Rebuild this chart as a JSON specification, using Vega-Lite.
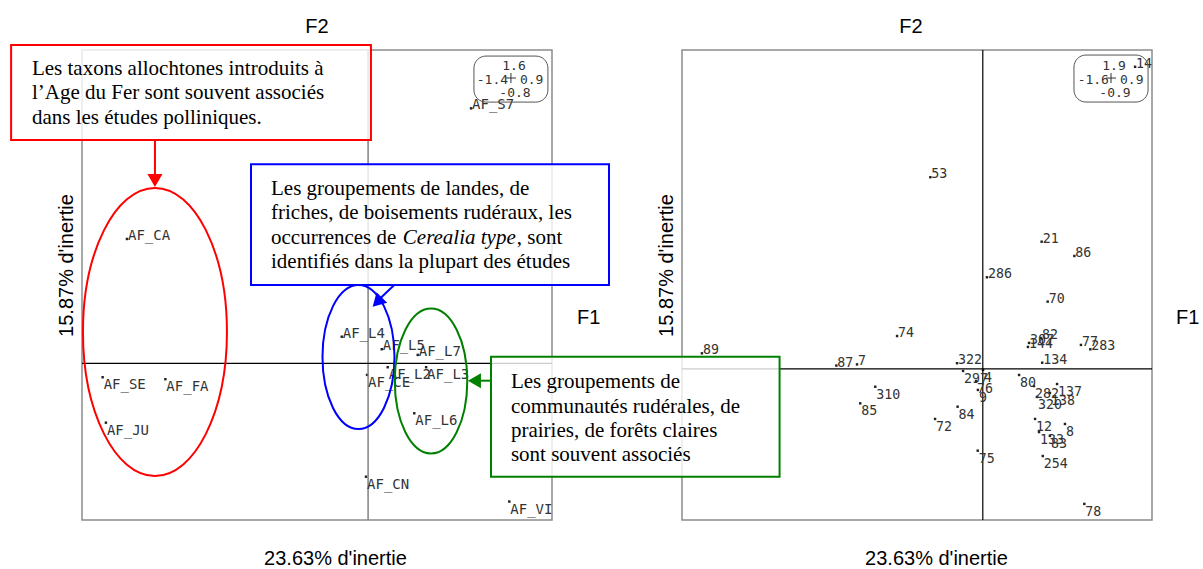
{
  "$schema": "https://vega.github.io/schema/vega-lite/v6.json",
  "background": "white",
  "padding": {"left": 9, "top": 16, "right": 5, "bottom": 5},
  "bounds": "flush",
  "spacing": 130,
  "config": {
    "view": {"stroke": "#8c8c8c", "strokeWidth": 1.5},
    "axis": {"domain": false, "ticks": false, "labels": false, "grid": false, "titleFont": "Liberation Sans", "titleFontSize": 20, "titleFontWeight": "normal", "titleColor": "#000"},
    "title": {"font": "Liberation Sans", "fontSize": 20, "fontWeight": "normal", "color": "#000", "anchor": "middle", "baseline": "bottom", "offset": 7}
  },
  "datasets": {
    "one": [{}],
    "left": [
      {"label": "AF_S7", "x": 0.504, "y": 1.302},
      {"label": "AF_CA", "x": -1.180, "y": 0.635},
      {"label": "AF_L4", "x": -0.129, "y": 0.136},
      {"label": "AF_L5", "x": 0.067, "y": 0.072},
      {"label": "AF_L7", "x": 0.243, "y": 0.043},
      {"label": "AF_L2", "x": 0.096, "y": -0.020},
      {"label": "AF_L3", "x": 0.284, "y": -0.020},
      {"label": "AF_CE", "x": -0.005, "y": -0.059},
      {"label": "AF_SE", "x": -1.299, "y": -0.071},
      {"label": "AF_FA", "x": -0.992, "y": -0.081},
      {"label": "AF_JU", "x": -1.283, "y": -0.303},
      {"label": "AF_L6", "x": 0.226, "y": -0.255},
      {"label": "AF_CN", "x": -0.010, "y": -0.579},
      {"label": "AF_VI", "x": 0.691, "y": -0.706}
    ],
    "right": [
      {"label": "14", "x": 0.810, "y": 1.800},
      {"label": "53", "x": -0.279, "y": 1.142},
      {"label": "21", "x": 0.313, "y": 0.758},
      {"label": "86", "x": 0.487, "y": 0.673},
      {"label": "286", "x": 0.022, "y": 0.546},
      {"label": "70", "x": 0.345, "y": 0.401},
      {"label": "74", "x": -0.456, "y": 0.196},
      {"label": "89", "x": -1.494, "y": 0.093},
      {"label": "87", "x": -0.779, "y": 0.020},
      {"label": "7", "x": -0.669, "y": 0.027},
      {"label": "322", "x": -0.137, "y": 0.034},
      {"label": "307", "x": 0.246, "y": 0.155},
      {"label": "82", "x": 0.310, "y": 0.184},
      {"label": "144", "x": 0.240, "y": 0.131},
      {"label": "77", "x": 0.522, "y": 0.143},
      {"label": "283", "x": 0.572, "y": 0.117},
      {"label": "134", "x": 0.316, "y": 0.037},
      {"label": "297", "x": -0.105, "y": -0.012},
      {"label": "4", "x": 0.001, "y": -0.006},
      {"label": "76", "x": -0.036, "y": -0.072},
      {"label": "9", "x": -0.026, "y": -0.125},
      {"label": "80", "x": 0.193, "y": -0.036},
      {"label": "282", "x": 0.272, "y": -0.102},
      {"label": "137", "x": 0.395, "y": -0.090},
      {"label": "138", "x": 0.357, "y": -0.143},
      {"label": "320", "x": 0.288, "y": -0.167},
      {"label": "310", "x": -0.572, "y": -0.106},
      {"label": "85", "x": -0.652, "y": -0.205},
      {"label": "84", "x": -0.134, "y": -0.225},
      {"label": "72", "x": -0.254, "y": -0.298},
      {"label": "12", "x": 0.278, "y": -0.298},
      {"label": "8", "x": 0.437, "y": -0.328},
      {"label": "133", "x": 0.299, "y": -0.376},
      {"label": "83", "x": 0.357, "y": -0.399},
      {"label": "75", "x": -0.027, "y": -0.487},
      {"label": "254", "x": 0.319, "y": -0.519},
      {"label": "78", "x": 0.540, "y": -0.804}
    ]
  },
  "hconcat": [
    {
      "width": 470,
      "height": 470,
      "title": {"text": "F2"},
      "layer": [
        {
          "data": {"name": "left"},
          "mark": {"type": "point", "shape": "square", "size": 6, "filled": true, "fill": "#222", "strokeWidth": 0, "opacity": 1},
          "encoding": {
            "x": {"field": "x", "type": "quantitative", "scale": {"domain": [-1.4, 0.9], "nice": false, "zero": false}, "axis": {"title": "23.63% d'inertie", "titleX": 253, "titleY": 38, "titleAlign": "center", "titleBaseline": "middle"}},
            "y": {"field": "y", "type": "quantitative", "scale": {"domain": [-0.8, 1.6], "nice": false, "zero": false}, "axis": {"title": "15.87% d'inertie", "titleX": -16, "titleY": 215, "titleAngle": -90, "titleAlign": "center", "titleBaseline": "middle"}}
          }
        },
        {"data": {"name": "one"}, "mark": {"type": "rule", "color": "#808080", "strokeWidth": 1.5}, "encoding": {"x": {"datum": 0}}},
        {"data": {"name": "one"}, "mark": {"type": "rule", "color": "#000", "strokeWidth": 1.2}, "encoding": {"y": {"datum": 0}}},
        {
          "data": {"name": "left"},
          "transform": [{"filter": "datum.y >= 0"}],
          "mark": {"type": "text", "align": "left", "baseline": "alphabetic", "dx": 1, "dy": 1, "font": "DejaVu Sans Mono", "fontSize": 14, "fill": "#333"},
          "encoding": {"x": {"field": "x", "type": "quantitative"}, "y": {"field": "y", "type": "quantitative"}, "text": {"field": "label"}}
        },
        {
          "data": {"name": "left"},
          "transform": [{"filter": "datum.y < 0"}],
          "mark": {"type": "text", "align": "left", "baseline": "top", "dx": 1, "dy": 1, "font": "DejaVu Sans Mono", "fontSize": 14, "fill": "#333"},
          "encoding": {"x": {"field": "x", "type": "quantitative"}, "y": {"field": "y", "type": "quantitative"}, "text": {"field": "label"}}
        },
        {"data": {"name": "one"}, "mark": {"type": "rect", "cornerRadius": 12, "fillOpacity": 0, "stroke": "#555", "strokeWidth": 1}, "encoding": {"x": {"datum": 0.518}, "x2": {"datum": 0.880}, "y": {"datum": 1.569}, "y2": {"datum": 1.334}}},
        {"data": {"name": "one"}, "mark": {"type": "text", "text": "1.6", "align": "center", "baseline": "middle", "font": "DejaVu Sans Mono", "fontSize": 13, "fill": "#333"}, "encoding": {"x": {"datum": 0.714}, "y": {"datum": 1.516}}},
        {"data": {"name": "one"}, "mark": {"type": "text", "text": "-1.4", "align": "right", "baseline": "middle", "font": "DejaVu Sans Mono", "fontSize": 13, "fill": "#333"}, "encoding": {"x": {"datum": 0.685}, "y": {"datum": 1.447}}},
        {"data": {"name": "one"}, "mark": {"type": "text", "text": "0.9", "align": "left", "baseline": "middle", "font": "DejaVu Sans Mono", "fontSize": 13, "fill": "#333"}, "encoding": {"x": {"datum": 0.743}, "y": {"datum": 1.447}}},
        {"data": {"name": "one"}, "mark": {"type": "text", "text": "-0.8", "align": "center", "baseline": "middle", "font": "DejaVu Sans Mono", "fontSize": 13, "fill": "#333"}, "encoding": {"x": {"datum": 0.719}, "y": {"datum": 1.378}}},
        {"data": {"name": "one"}, "mark": {"type": "point", "shape": "M -1 0 L 1 0 M 0 -1 L 0 1", "size": 100, "filled": false, "stroke": "#333", "strokeWidth": 1, "opacity": 1}, "encoding": {"x": {"datum": 0.699}, "y": {"datum": 1.457}}},
        {"data": {"name": "one"}, "mark": {"type": "text", "text": "F1", "align": "left", "baseline": "middle", "font": "Liberation Sans", "fontSize": 20, "fill": "#000", "clip": false}, "encoding": {"x": {"datum": 1.022}, "y": {"datum": 0.231}}},
        {"data": {"name": "one"}, "mark": {"type": "point", "shape": "M 0 -1 A 0.5 1 0 1 1 0 1 A 0.5 1 0 1 1 0 -1 Z", "size": 82944, "filled": false, "stroke": "#ff0000", "strokeWidth": 2, "opacity": 1, "clip": false}, "encoding": {"x": {"datum": -1.043}, "y": {"datum": 0.160}}},
        {"data": {"name": "one"}, "mark": {"type": "point", "shape": "M 0 -1 A 0.5 1 0 1 1 0 1 A 0.5 1 0 1 1 0 -1 Z", "size": 20736, "filled": false, "stroke": "#0000ff", "strokeWidth": 2, "opacity": 1, "clip": false}, "encoding": {"x": {"datum": -0.047}, "y": {"datum": 0.032}}},
        {"data": {"name": "one"}, "mark": {"type": "point", "shape": "M 0 -1 A 0.5 1 0 1 1 0 1 A 0.5 1 0 1 1 0 -1 Z", "size": 21025, "filled": false, "stroke": "#008000", "strokeWidth": 2, "opacity": 1, "clip": false}, "encoding": {"x": {"datum": 0.308}, "y": {"datum": -0.090}}},
        {"data": {"name": "one"}, "mark": {"type": "rect", "fill": "white", "fillOpacity": 0.8, "stroke": "#ff0000", "strokeWidth": 2, "clip": false}, "encoding": {"x": {"datum": -1.747}, "x2": {"datum": 0.014}, "y": {"datum": 1.6255}, "y2": {"datum": 1.140}}},
        {"data": {"name": "one"}, "mark": {"type": "text", "text": ["Les taxons allochtones introduits à", "l’Age du Fer sont souvent associés", "dans les études polliniques."], "align": "left", "baseline": "alphabetic", "font": "Liberation Serif", "fontSize": 21, "lineHeight": 24.3, "fill": "#000", "clip": false}, "encoding": {"x": {"datum": -1.645}, "y": {"datum": 1.472}}},
        {"data": {"name": "one"}, "mark": {"type": "rule", "color": "#ff0000", "strokeWidth": 2, "clip": false}, "encoding": {"x": {"datum": -1.043}, "y": {"datum": 1.140}, "y2": {"datum": 0.962}}},
        {"data": {"name": "one"}, "mark": {"type": "point", "shape": "triangle-down", "size": 225, "filled": true, "fill": "#ff0000", "strokeWidth": 0, "opacity": 1, "clip": false}, "encoding": {"x": {"datum": -1.043}, "y": {"datum": 0.934}}},
        {"data": {"name": "one"}, "mark": {"type": "rect", "fill": "white", "fillOpacity": 0.8, "stroke": "#0000ff", "strokeWidth": 2, "clip": false}, "encoding": {"x": {"datum": -0.573}, "x2": {"datum": 1.179}, "y": {"datum": 1.016}, "y2": {"datum": 0.400}}},
        {"data": {"name": "one"}, "mark": {"type": "text", "text": ["Les groupements de landes, de", "friches, de boisements rudéraux, les"], "align": "left", "baseline": "alphabetic", "font": "Liberation Serif", "fontSize": 21, "lineHeight": 24.3, "fill": "#000", "clip": false}, "encoding": {"x": {"datum": -0.475}, "y": {"datum": 0.860}}},
        {"data": {"name": "one"}, "mark": {"type": "text", "text": "occurrences de", "align": "left", "baseline": "alphabetic", "font": "Liberation Serif", "fontSize": 21, "fill": "#000", "clip": false}, "encoding": {"x": {"datum": -0.475}, "y": {"datum": 0.609}}},
        {"data": {"name": "one"}, "mark": {"type": "text", "text": "Cerealia type", "align": "left", "baseline": "alphabetic", "font": "Liberation Serif", "fontStyle": "italic", "fontSize": 21, "fill": "#000", "clip": false}, "encoding": {"x": {"datum": 0.170}, "y": {"datum": 0.609}}},
        {"data": {"name": "one"}, "mark": {"type": "text", "text": ", sont", "align": "left", "baseline": "alphabetic", "font": "Liberation Serif", "fontSize": 21, "fill": "#000", "clip": false}, "encoding": {"x": {"datum": 0.728}, "y": {"datum": 0.609}}},
        {"data": {"name": "one"}, "mark": {"type": "text", "text": "identifiés dans la plupart des études", "align": "left", "baseline": "alphabetic", "font": "Liberation Serif", "fontSize": 21, "fill": "#000", "clip": false}, "encoding": {"x": {"datum": -0.475}, "y": {"datum": 0.487}}},
        {"data": {"name": "one"}, "mark": {"type": "rule", "color": "#0000ff", "strokeWidth": 2, "clip": false}, "encoding": {"x": {"datum": 0.128}, "y": {"datum": 0.400}, "x2": {"datum": 0.0534}, "y2": {"datum": 0.326}}},
        {"data": {"name": "one"}, "mark": {"type": "point", "shape": "triangle-down", "angle": 45, "size": 225, "filled": true, "fill": "#0000ff", "strokeWidth": 0, "opacity": 1, "clip": false}, "encoding": {"x": {"datum": 0.045}, "y": {"datum": 0.313}}}
      ]
    },
    {
      "width": 470,
      "height": 470,
      "title": {"text": "F2", "dx": -6, "dy": -5},
      "layer": [
        {
          "data": {"name": "right"},
          "mark": {"type": "point", "shape": "square", "size": 6, "filled": true, "fill": "#222", "strokeWidth": 0, "opacity": 1},
          "encoding": {
            "x": {"field": "x", "type": "quantitative", "scale": {"domain": [-1.6, 0.9], "nice": false, "zero": false}, "axis": {"title": "23.63% d'inertie", "titleX": 254, "titleY": 38, "titleAlign": "center", "titleBaseline": "middle"}},
            "y": {"field": "y", "type": "quantitative", "scale": {"domain": [-0.9, 1.9], "nice": false, "zero": false}, "axis": {"title": "15.87% d'inertie", "titleX": -16, "titleY": 215, "titleAngle": -90, "titleAlign": "center", "titleBaseline": "middle"}}
          }
        },
        {"data": {"name": "one"}, "mark": {"type": "rule", "color": "#000", "strokeWidth": 1.2}, "encoding": {"x": {"datum": 0}}},
        {"data": {"name": "one"}, "mark": {"type": "rule", "color": "#000", "strokeWidth": 1.2}, "encoding": {"y": {"datum": 0}}},
        {
          "data": {"name": "right"},
          "transform": [{"filter": "datum.y >= 0"}],
          "mark": {"type": "text", "align": "left", "baseline": "alphabetic", "dx": 1, "dy": 1, "font": "DejaVu Sans Mono", "fontSize": 13.3, "fill": "#333"},
          "encoding": {"x": {"field": "x", "type": "quantitative"}, "y": {"field": "y", "type": "quantitative"}, "text": {"field": "label"}}
        },
        {
          "data": {"name": "right"},
          "transform": [{"filter": "datum.y < 0"}],
          "mark": {"type": "text", "align": "left", "baseline": "top", "dx": 1, "dy": 1, "font": "DejaVu Sans Mono", "fontSize": 13.3, "fill": "#333"},
          "encoding": {"x": {"field": "x", "type": "quantitative"}, "y": {"field": "y", "type": "quantitative"}, "text": {"field": "label"}}
        },
        {"data": {"name": "one"}, "mark": {"type": "rect", "cornerRadius": 12, "fillOpacity": 0, "stroke": "#555", "strokeWidth": 1}, "encoding": {"x": {"datum": 0.485}, "x2": {"datum": 0.879}, "y": {"datum": 1.870}, "y2": {"datum": 1.590}}},
        {"data": {"name": "one"}, "mark": {"type": "text", "text": "1.9", "align": "center", "baseline": "middle", "font": "DejaVu Sans Mono", "fontSize": 13, "fill": "#333"}, "encoding": {"x": {"datum": 0.698}, "y": {"datum": 1.802}}},
        {"data": {"name": "one"}, "mark": {"type": "text", "text": "-1.6", "align": "right", "baseline": "middle", "font": "DejaVu Sans Mono", "fontSize": 13, "fill": "#333"}, "encoding": {"x": {"datum": 0.671}, "y": {"datum": 1.721}}},
        {"data": {"name": "one"}, "mark": {"type": "text", "text": "0.9", "align": "left", "baseline": "middle", "font": "DejaVu Sans Mono", "fontSize": 13, "fill": "#333"}, "encoding": {"x": {"datum": 0.730}, "y": {"datum": 1.721}}},
        {"data": {"name": "one"}, "mark": {"type": "text", "text": "-0.9", "align": "center", "baseline": "middle", "font": "DejaVu Sans Mono", "fontSize": 13, "fill": "#333"}, "encoding": {"x": {"datum": 0.703}, "y": {"datum": 1.641}}},
        {"data": {"name": "one"}, "mark": {"type": "point", "shape": "M -1 0 L 1 0 M 0 -1 L 0 1", "size": 100, "filled": false, "stroke": "#333", "strokeWidth": 1, "opacity": 1}, "encoding": {"x": {"datum": 0.682}, "y": {"datum": 1.733}}},
        {"data": {"name": "one"}, "mark": {"type": "text", "text": "F1", "align": "left", "baseline": "middle", "font": "Liberation Sans", "fontSize": 20, "fill": "#000", "clip": false}, "encoding": {"x": {"datum": 1.028}, "y": {"datum": 0.303}}},
        {"data": {"name": "one"}, "mark": {"type": "rect", "fill": "white", "fillOpacity": 0.8, "stroke": "#008000", "strokeWidth": 2, "clip": false}, "encoding": {"x": {"datum": -2.616}, "x2": {"datum": -1.081}, "y": {"datum": 0.073}, "y2": {"datum": -0.642}}},
        {"data": {"name": "one"}, "mark": {"type": "text", "text": ["Les groupements de", "communautés rudérales, de", "prairies, de forêts claires", "sont souvent associés"], "align": "left", "baseline": "alphabetic", "font": "Liberation Serif", "fontSize": 21, "lineHeight": 24.3, "fill": "#000", "clip": false}, "encoding": {"x": {"datum": -2.510}, "y": {"datum": -0.115}}},
        {"data": {"name": "one"}, "mark": {"type": "rule", "color": "#008000", "strokeWidth": 2, "clip": false}, "encoding": {"x": {"datum": -2.616}, "x2": {"datum": -2.680}, "y": {"datum": -0.070}}},
        {"data": {"name": "one"}, "mark": {"type": "point", "shape": "triangle-left", "size": 225, "filled": true, "fill": "#008000", "strokeWidth": 0, "opacity": 1, "clip": false}, "encoding": {"x": {"datum": -2.704}, "y": {"datum": -0.070}}}
      ]
    }
  ]
}
